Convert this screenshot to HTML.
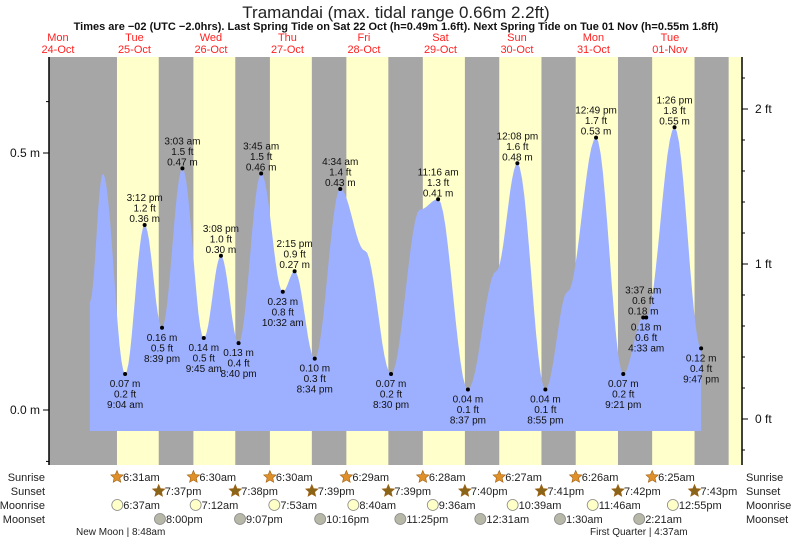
<!DOCTYPE html>
<html><head><meta charset="utf-8">
<style>
body{margin:0;background:#fff;}
svg{display:block;font-family:"Liberation Sans",sans-serif;}
</style></head>
<body>
<svg id="chart" width="793" height="539" viewBox="0 0 793 539">
<text x="396" y="18" text-anchor="middle" font-size="17" fill="#222">Tramandai (max. tidal range 0.66m 2.2ft)</text>
<text x="396" y="30" text-anchor="middle" font-size="11" font-weight="bold" fill="#111">Times are −02 (UTC −2.0hrs). Last Spring Tide on Sat 22 Oct (h=0.49m 1.6ft). Next Spring Tide on Tue 01 Nov (h=0.55m 1.8ft)</text>
<g id="bands"></g>
<g id="tide"></g>
<g id="axes"></g>
<g id="labels"></g>
<g id="astro"></g>
</svg>
<script>
// ---- data ----
const dayNames = ["Mon","Tue","Wed","Thu","Fri","Sat","Sun","Mon","Tue"];
const dayDates = ["24-Oct","25-Oct","26-Oct","27-Oct","28-Oct","29-Oct","30-Oct","31-Oct","01-Nov"];
const tideHour = [22,2.1,9.067,15.2,20.65,3.05,9.75,15.133,20.667,3.75,10.533,14.25,20.567,4.567,12.3,20.5,5.6,11.267,20.617,5.5,12.133,20.917,3.9,12.817,21.35,3.617,4.55,13.433,21.783];
const tideH = [0.21,0.46,0.07,0.36,0.16,0.47,0.14,0.30,0.13,0.46,0.23,0.27,0.10,0.43,0.31,0.07,0.39,0.41,0.04,0.27,0.48,0.04,0.23,0.53,0.07,0.18,0.18,0.55,0.12];
const tideTime = ["","","9:04 am","3:12 pm","8:39 pm","3:03 am","9:45 am","3:08 pm","8:40 pm","3:45 am","10:32 am","2:15 pm","8:34 pm","4:34 am","","8:30 pm","","11:16 am","8:37 pm","","12:08 pm","8:55 pm","","12:49 pm","9:21 pm","3:37 am","4:33 am","1:26 pm","9:47 pm"];
const tideFt = ["","","0.2","1.2","0.5","1.5","0.5","1.0","0.4","1.5","0.8","0.9","0.3","1.4","","0.2","","1.3","0.1","","1.6","0.1","","1.7","0.2","0.6","0.6","1.8","0.4"];
const tideDayFix=[0,1,1,1,1,2,2,2,2,3,3,3,3,4,4,4,5,5,5,6,6,6,7,7,7,8,8,8,8];
const sunriseDay=[1,2,3,4,5,6,7,8,9], sunriseH=[6.517,6.5,6.5,6.483,6.467,6.45,6.433,6.417,6.417];
const sunriseTxt=["6:31am","6:30am","6:30am","6:29am","6:28am","6:27am","6:26am","6:25am",""];
const sunsetH=[19.617,19.633,19.65,19.65,19.667,19.683,19.7,19.717];
const sunsetTxt=["7:37pm","7:38pm","7:39pm","7:39pm","7:40pm","7:41pm","7:42pm","7:43pm"];
const moonriseH=[6.617,7.2,7.883,8.667,9.6,10.65,11.767,12.917];
const moonriseTxt=["6:37am","7:12am","7:53am","8:40am","9:36am","10:39am","11:46am","12:55pm"];
const moonsetDay=[1,2,3,4,6,7,8], moonsetH=[20,21.117,22.267,23.417,0.517,1.5,2.35];
const moonsetTxt=["8:00pm","9:07pm","10:16pm","11:25pm","12:31am","1:30am","2:21am"];

// ---- scales ----
const X0=19.7, PXH=3.1875, PL=49, PR=741, PT=57, PB=465;
const xs=(d,h)=>X0+(d*24+h)*PXH;
const ym=m=>410-m*514;
const NS="http://www.w3.org/2000/svg";
function mk(tag,attrs,parent,txt){const e=document.createElementNS(NS,tag);for(const k in attrs)e.setAttribute(k,attrs[k]);if(txt!==undefined)e.textContent=txt;parent.appendChild(e);return e;}

// bands
const bands=document.getElementById('bands');
let bg=mk('rect',{x:PL,y:PT,width:PR-PL,height:PB-PT,fill:'#a6a6a6'},bands);


for(let i=0;i<9;i++){
  const x1=Math.max(PL,xs(sunriseDay[i],sunriseH[i]));
  const x2=Math.min(PR,xs(sunriseDay[i],i<8?sunsetH[i]:19.72));
  if(x2<=x1)continue;
  const r=mk('rect',{x:x1,y:PT,width:x2-x1,height:PB-PT,fill:'#ffffcc'},bands);
  
  
}
for(let i=0;i<9;i++){
  const cx=xs(i,12);
  const t1=mk('text',{x:cx,y:41,'text-anchor':'middle','font-size':11,fill:'#f22'},bands,dayNames[i]);
  
  
  const t2=mk('text',{x:cx,y:53,'text-anchor':'middle','font-size':11,fill:'#f22'},bands,dayDates[i]);
  
  
}

// tide curve (cosine interpolation)
const pts=tideH.map((h,i)=>[xs(tideDayFix[i],tideHour[i]),ym(h)]);
let d=`M${pts[0][0]},431 L${pts[0][0]},${pts[0][1]}`;
for(let i=0;i<pts.length-1;i++){
  const [xa,ya]=pts[i],[xb,yb]=pts[i+1];
  for(let s=1;s<=12;s++){const t=s/12;const f=(1-Math.cos(Math.PI*t))/2;d+=` L${(xa+(xb-xa)*t).toFixed(1)},${(ya+(yb-ya)*f).toFixed(1)}`;}
}
d+=` L${pts[pts.length-1][0]},431 Z`;
const tide=document.getElementById('tide');
const area=mk('path',{d:d,fill:'#9db0ff'},tide);



// labels
const lab=document.getElementById('labels');
for(let i=0;i<pts.length;i++){
  if(!tideTime[i])continue;
  const [x,y]=pts[i];
  const high=(i>0&&tideH[i]>tideH[i-1])||i===25;
  const dot=mk('circle',{cx:x,cy:y,r:2,fill:'#000'},lab);
  
  
  const m=tideH[i].toFixed(2)+' m', f=tideFt[i]+' ft';
  const lines=high?[tideTime[i],f,m]:[m,f,tideTime[i]];
  const base=high?y-24:y+13;
  lines.forEach((s,k)=>{
    const t=mk('text',{x:x,y:base+k*10.5,'text-anchor':'middle','font-size':10,fill:'#111'},lab,s);
    
    
  });
}

// axes
const ax=document.getElementById('axes');
let l=mk('line',{x1:PL,y1:PT,x2:PL,y2:PB,stroke:'#000','stroke-width':1.5},ax);


[[0.5,'0.5 m'],[0,'0.0 m']].forEach(([v,s])=>{
  mk('line',{x1:PL-6,y1:ym(v),x2:PL,y2:ym(v),stroke:'#000'},ax);
  const t=mk('text',{x:PL-9,y:ym(v)+4,'text-anchor':'end','font-size':12,fill:'#111'},ax,s);
  
  
});
[0.6,-0.1].forEach(v=>mk('line',{x1:PL-3,y1:ym(v),x2:PL,y2:ym(v),stroke:'#000'},ax));
l=mk('line',{x1:PR+1,y1:PT,x2:PR+1,y2:PB,stroke:'#000','stroke-width':1.5},ax);


for(let k=-2;k<=23;k++){
  const y=419-k*0.2*155;
  if(y<PT||y>PB)continue;
  const major=k%5===0;
  mk('line',{x1:PR+1,y1:y,x2:PR+(major?7:4),y2:y,stroke:'#000'},ax);
  if(major){
    const t=mk('text',{x:PR+14,y:y+4,'font-size':12,fill:'#111'},ax,(k/5)+' ft');
    
    
  }
}

// astro rows
const as=document.getElementById('astro');
const rows=[['Sunrise',481],['Sunset',495],['Moonrise',509],['Moonset',523]];
rows.forEach(([n,y])=>{
  let t=mk('text',{x:45,y:y,'text-anchor':'end','font-size':11,fill:'#222'},as,n);
  
  
  t=mk('text',{x:746,y:y,'font-size':11,fill:'#222'},as,n);
  
  
});
function star(cx,cy,fill){
  let p='';for(let k=0;k<10;k++){const r=k%2?3:6.5;const a=-Math.PI/2+k*Math.PI/5;p+=`${(cx+r*Math.cos(a)).toFixed(1)},${(cy+r*Math.sin(a)).toFixed(1)} `;}
  return mk('polygon',{points:p,fill:fill,stroke:'#a06010','stroke-width':0.6},as);
}
function item(x,y,txt,kind,name){
  let ic;
  if(kind==='rise')ic=star(x,y-4,'#e0902a');
  else if(kind==='set')ic=star(x,y-4,'#8a6418');
  else ic=mk('circle',{cx:x,cy:y-4,r:5.5,fill:kind==='mr'?'#ffffc8':'#b8b8a8',stroke:'#888','stroke-width':0.8},as);
  
  
  const t=mk('text',{x:x+6,y:y,'font-size':11,fill:'#222'},as,txt);
  
  
}
for(let i=0;i<8;i++){
  item(xs(sunriseDay[i],sunriseH[i]),481,sunriseTxt[i],'rise','sunrise');
  item(xs(sunriseDay[i],sunsetH[i]),495,sunsetTxt[i],'set','sunset');
  item(xs(sunriseDay[i],moonriseH[i]),509,moonriseTxt[i],'mr','moonrise');
}
for(let i=0;i<moonsetDay.length;i++) item(xs(moonsetDay[i],moonsetH[i]),523,moonsetTxt[i],'ms','moonset');
let t=mk('text',{x:76,y:535,'font-size':10,fill:'#222'},as,'New Moon | 8:48am');


t=mk('text',{x:590,y:535,'font-size':10,fill:'#222'},as,'First Quarter | 4:37am');


</script>
</body></html>
